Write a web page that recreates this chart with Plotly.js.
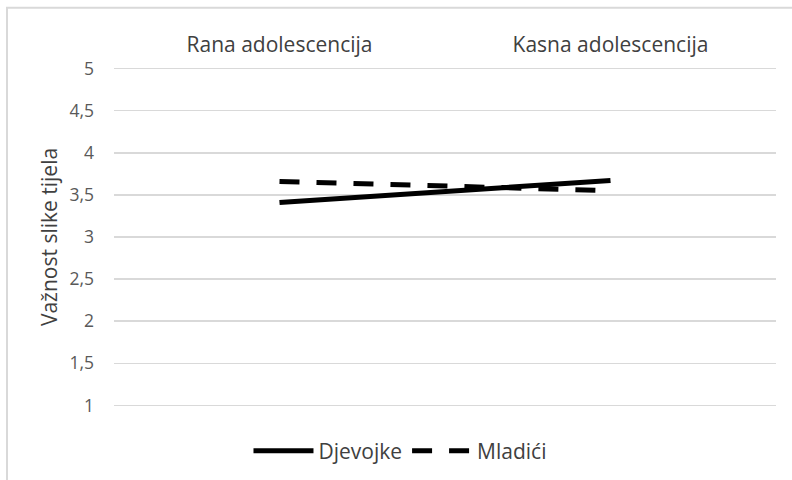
<!DOCTYPE html>
<html>
<head>
<meta charset="utf-8">
<script src="https://cdn.plot.ly/plotly-3.0.1.min.js"></script>
<style>html,body{margin:0;padding:0;background:#fff;}#chart{width:792px;height:480px;}</style>
</head>
<body>
<div id="chart"></div>
<script>
var categories = ["Rana adolescencija", "Kasna adolescencija"];
var seriesNames = ["Djevojke", "Mladići"];
var djevojke = [3.41, 3.67];
var mladici = [3.66, 3.55];
var yTicks = [1, 1.5, 2, 2.5, 3, 3.5, 4, 4.5, 5];

var FONT = "Open Sans, sans-serif";
var traces = [
  {x: categories, y: djevojke, name: seriesNames[0], type: "scatter", mode: "lines",
   line: {color: "#000000", width: 5, dash: "solid"}},
  {x: categories, y: mladici, name: seriesNames[1], type: "scatter", mode: "lines",
   line: {color: "#000000", width: 5, dash: "20px,17px"}}
];
var layout = {
  width: 792, height: 480,
  margin: {l: 114, r: 16, t: 66, b: 72, autoexpand: false},
  paper_bgcolor: "#ffffff", plot_bgcolor: "#ffffff",
  separators: ", ",
  font: {family: FONT, color: "#595959"},
  showlegend: true,
  legend: {orientation: "h", x: 0.432, xanchor: "center", y: -0.126, yanchor: "middle",
           font: {family: FONT, size: 21, color: "#404040"}, itemwidth: 60, traceorder: "normal"},
  xaxis: {type: "category", side: "top", range: [-0.5, 1.5], showgrid: false, zeroline: false,
          showline: false, ticks: "", ticklabelstandoff: 9,
          tickfont: {family: FONT, size: 21, color: "#404040"}, fixedrange: true},
  yaxis: {range: [0.97, 5.03], tickvals: yTicks, showgrid: true, gridcolor: "#d9d9d9", gridwidth: 1.5,
          zeroline: false, showline: false, ticks: "", ticklabelstandoff: 19,
          tickfont: {family: FONT, size: 17.5, color: "#595959"},
          title: {text: "Važnost slike tijela", font: {family: FONT, size: 21, color: "#404040"}, standoff: 6},
          fixedrange: true},
  shapes: [
    {type: "rect", xref: "paper", yref: "paper", x0: -0.1616, x1: 1.03, y0: -0.25, y1: 1.17,
     line: {color: "#d9d9d9", width: 2}, fillcolor: "rgba(0,0,0,0)", layer: "below"}
  ]
};
Plotly.newPlot("chart", traces, layout, {displayModeBar: false, staticPlot: true});
</script>
</body>
</html>
